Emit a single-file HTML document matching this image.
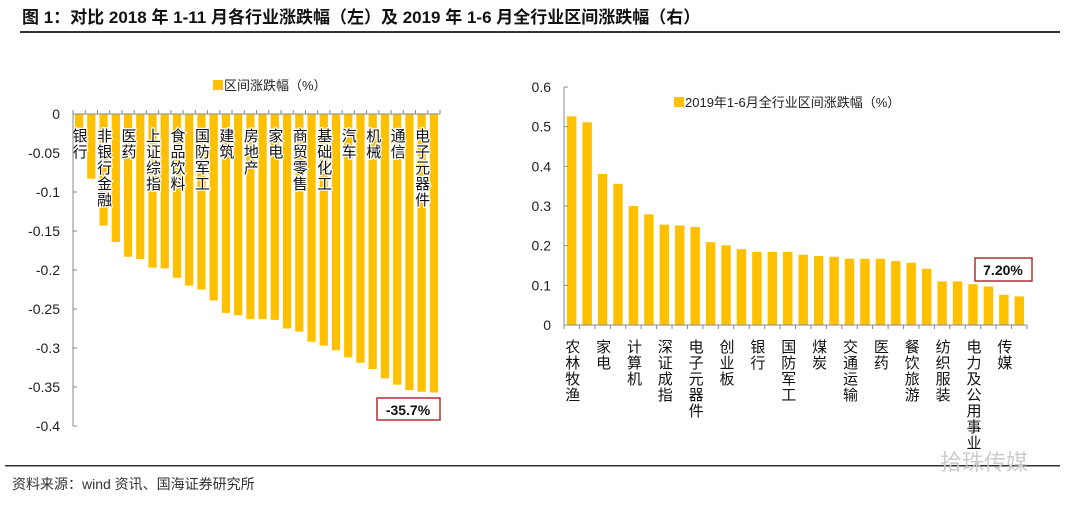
<!DOCTYPE html>
<html><head><meta charset="utf-8"><style>
body{margin:0;background:#fff;}
svg{display:block;font-family:"Liberation Sans","Noto Sans CJK SC",sans-serif;}
</style></head><body>
<svg id="c" width="1080" height="509" viewBox="0 0 1080 509">
<text x="22" y="23" font-size="17" font-weight="bold" fill="#111">图 1：对比 2018 年 1-11 月各行业涨跌幅（左）及 2019 年 1-6 月全行业区间涨跌幅（右）</text>
<rect x="20" y="31" width="1040" height="2" fill="#333"/>
<rect x="5" y="465" width="1055" height="1.5" fill="#333"/>
<text x="12" y="489" font-size="14" fill="#333">资料来源：wind 资讯、国海证券研究所</text>
<text x="940" y="470" font-size="22" fill="#ccc">拾珠传媒</text>
<g id="left"></g><g id="right"></g>
</svg>
<script>
const leftCats=["银行","","非银行金融","","医药","","上证综指","","食品饮料","","国防军工","","建筑","","房地产","","家电","","商贸零售","","基础化工","","汽车","","机械","","通信","","电子元器件",""];
const leftVals=[-0.03,-0.083,-0.143,-0.164,-0.183,-0.186,-0.197,-0.198,-0.210,-0.220,-0.225,-0.239,-0.255,-0.258,-0.263,-0.263,-0.264,-0.275,-0.279,-0.292,-0.297,-0.303,-0.312,-0.319,-0.327,-0.339,-0.347,-0.354,-0.356,-0.357];
const leftTicks=["0","-0.05","-0.1","-0.15","-0.2","-0.25","-0.3","-0.35","-0.4"];
const leftTickVals=[0,-0.05,-0.1,-0.15,-0.2,-0.25,-0.3,-0.35,-0.4];
const rightCats=["农林牧渔","","家电","","计算机","","深证成指","","电子元器件","","创业板","","银行","","国防军工","","煤炭","","交通运输","","医药","","餐饮旅游","","纺织服装","","电力及公用事业","","传媒",""];
const rightVals=[0.526,0.511,0.381,0.356,0.300,0.279,0.253,0.251,0.247,0.209,0.201,0.191,0.184,0.184,0.184,0.177,0.174,0.172,0.167,0.167,0.167,0.161,0.157,0.142,0.110,0.110,0.103,0.097,0.076,0.072];
const rightTicks=["0","0.1","0.2","0.3","0.4","0.5","0.6"];
const rightTickVals=[0,0.1,0.2,0.3,0.4,0.5,0.6];
const NS="http://www.w3.org/2000/svg";
function mk(p,t,a){const e=document.createElementNS(NS,t);for(const k in a)e.setAttribute(k,a[k]);p.appendChild(e);return e;}
const Y="#FFC000";
// left
(function(){
const g=document.getElementById('left');
const x0=73,x1=440,y0=114,y1=426;
const yS=v=>y0+(0-v)/0.4*(y1-y0);
const step=(x1-x0)/leftVals.length;
leftVals.forEach((v,i)=>{
 const r=mk(g,'rect',{x:x0+i*step+2,y:y0,width:step-4,height:yS(v)-y0,fill:Y});
 
 
});
leftCats.forEach((c,i)=>{
 if(!c)return;
 [...c].forEach((ch,j)=>{
  const t=mk(g,'text',{x:x0+i*step+step/2+1,y:141+j*16,'font-size':15,'text-anchor':'middle',fill:'#111',stroke:'#fff','stroke-width':2.5,'paint-order':'stroke'});
  t.textContent=ch;
  
  
 });
});
const ax=mk(g,'line',{x1:x0,y1:y0,x2:x1,y2:y0,stroke:'#888','stroke-width':1});

for(let i=0;i<=leftVals.length;i++){mk(g,'line',{x1:x0+i*step,y1:y0-4,x2:x0+i*step,y2:y0,stroke:'#888'});}
const ay=mk(g,'line',{x1:x0,y1:y0,x2:x0,y2:y1,stroke:'#888'});

leftTickVals.forEach((v,i)=>{
 mk(g,'line',{x1:x0,y1:yS(v),x2:x0+4,y2:yS(v),stroke:'#888'});
 const t=mk(g,'text',{x:x0-13,y:yS(v)+5,'font-size':14,'text-anchor':'end',fill:'#222'});
 t.textContent=leftTicks[i];
 
 
});
const lg=mk(g,'rect',{x:213,y:80,width:10,height:10,fill:Y});

const lt=mk(g,'text',{x:224,y:90,'font-size':13,fill:'#222'});lt.textContent='区间涨跌幅（%）';

const i=leftVals.length-1;
const bx=mk(g,'rect',{x:377,y:398,width:63,height:22,fill:'#fff',stroke:'#a33','stroke-width':1.5});

const at=mk(g,'text',{x:408,y:415,'font-size':14,'font-weight':'bold','text-anchor':'middle',fill:'#111'});
at.textContent=(leftVals[i]*100).toFixed(1)+'%';

})();
// right
(function(){
const g=document.getElementById('right');
const x0=564,x1=1027,y0=325,yT=87;
const yS=v=>y0-v/0.6*(y0-yT);
const step=(x1-x0)/rightVals.length;
rightVals.forEach((v,i)=>{
 const r=mk(g,'rect',{x:x0+i*step+3,y:yS(v),width:step-6,height:y0-yS(v),fill:Y});
 
 
});
const ax=mk(g,'line',{x1:x0,y1:y0,x2:x1,y2:y0,stroke:'#888'});

for(let i=0;i<=rightVals.length;i++){mk(g,'line',{x1:x0+i*step,y1:y0,x2:x0+i*step,y2:y0+4,stroke:'#888'});}
const ay=mk(g,'line',{x1:x0,y1:yT,x2:x0,y2:y0,stroke:'#888'});

rightTickVals.forEach((v,i)=>{
 mk(g,'line',{x1:x0,y1:yS(v),x2:x0+4,y2:yS(v),stroke:'#888'});
 const t=mk(g,'text',{x:x0-13,y:yS(v)+5,'font-size':14,'text-anchor':'end',fill:'#222'});
 t.textContent=rightTicks[i];
 
 
});
rightCats.forEach((c,i)=>{
 if(!c)return;
 [...c].forEach((ch,j)=>{
  const t=mk(g,'text',{x:x0+i*step+step/2+1,y:352+j*16,'font-size':15,'text-anchor':'middle',fill:'#111'});
  t.textContent=ch;
  
  
 });
});
const lg=mk(g,'rect',{x:674,y:97,width:10,height:10,fill:Y});

const lt=mk(g,'text',{x:685,y:107,'font-size':13,fill:'#222'});lt.textContent='2019年1-6月全行业区间涨跌幅（%）';

const i=rightVals.length-1;
const bx=mk(g,'rect',{x:975,y:258,width:57,height:23,fill:'#fff',stroke:'#a33','stroke-width':1.5});

const at=mk(g,'text',{x:1003,y:275,'font-size':14,'font-weight':'bold','text-anchor':'middle',fill:'#111'});
at.textContent=(rightVals[i]*100).toFixed(2)+'%';

})();
</script>
</body></html>
